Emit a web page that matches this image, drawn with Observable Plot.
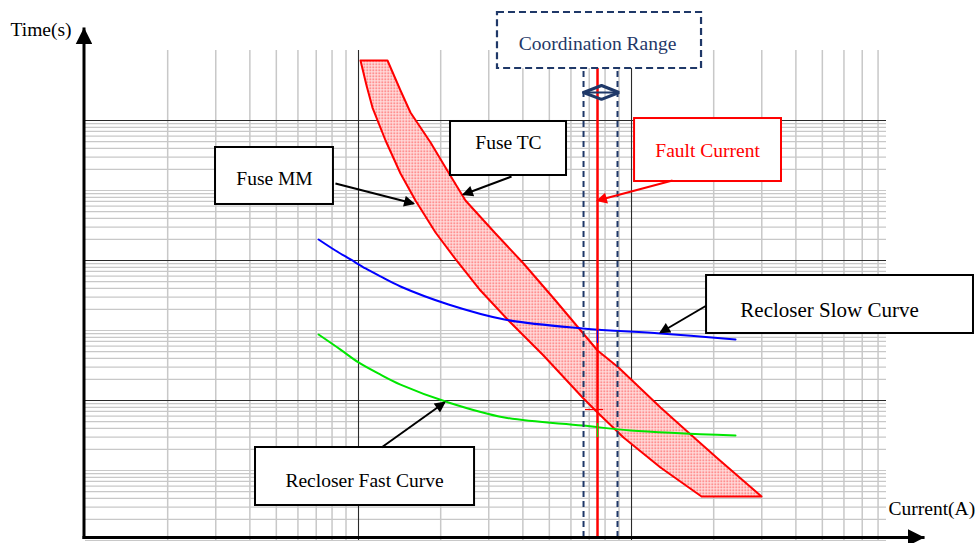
<!DOCTYPE html>
<html><head><meta charset="utf-8">
<script src="https://cdn.jsdelivr.net/npm/d3@7"></script>
<script src="https://cdn.jsdelivr.net/npm/@observablehq/plot@0.6"></script>
<style>
html,body{margin:0;padding:0;background:#fff;}
#chart{width:980px;height:543px;overflow:hidden;}
</style></head><body><div id="chart"></div>
<script>
// ---------- data (current in A, time in s) ----------
const fuseMMCurrent = [1017,1070,1125,1256,1425,1617,1915,2286,2798,3543,4760,6616,7507,9348,12770,18050];
const fuseMMTime    = [26.83,17.78,12.38,7.197,4.183,2.683,1.585,1.0,0.6105,0.3728,0.2096,0.1051,0.0821,0.0544,0.0332,0.0206];
const fuseTCCurrent = [1277,1425,1550,1836,2136,2465,3175,4022,5267,7507,8961,12770,16310,20480,29940];
const fuseTCTime    = [26.83,16.38,11.41,6.964,4.252,2.683,1.559,0.9519,0.5179,0.2276,0.1720,0.0891,0.0581,0.0392,0.0206];
const slowCurrent = [714,823,935,1061,1204,1425,2136,3426,6616,12770,24040];
const slowTime    = [1.413,1.179,1.017,0.877,0.769,0.652,0.485,0.379,0.327,0.301,0.273];
const fastCurrent = [714,859,1000,1204,1425,2136,3426,6616,9916,24040];
const fastTime    = [0.296,0.231,0.187,0.153,0.130,0.0968,0.0756,0.0663,0.0611,0.0562];
const faultCurrent = 7507;
const coordRange = [6672, 8886];

// grid ticks
const xDecades = [100, 1000, 10000];
const xMajor = [1000, 10000];
const yMajor = [0.1, 1, 10];
const minorSteps = [2,3,4,5,6,7,8,9];
const xDomain = [100, 85900];
const yDomain = [0.01, 31.62];

// annotation texts and boxes (positions in A / s)
const boxLabels = ["Fuse MM","Fuse TC","Fault Current","Recloser Slow Curve","Recloser Fast Curve","Coordination Range"];
const boxX1 = [299.4, 2173, 10260, 18830, 419.5, 3229];
const boxX2 = [809.5, 5780, 35430, 178900, 2661, 18050];
const boxY1 = [2.512, 4.047, 3.666, 0.301, 0.01778, 23.51];
const boxY2 = [6.414, 9.837, 10.33, 0.7813, 0.04616, 59.08];
const textX = [492.3, 3543, 18990, 53130, 1052, 7507];
const textY = [3.852, 6.96, 6.105, 0.4394, 0.02683, 35.48];
const textSize = [19.5, 19.5, 19.5, 21, 19.5, 19.5];
const boxColor = ["#000","#000","#ff0000","#000","#000","#1f3868"];

// pointer arrows: from box to curve
const ptrFromX = [823.3, 3635, 18830, 1214];
const ptrFromY = [3.548, 3.981, 0.477, 0.04616];
const ptrToX   = [1590, 2424, 12770, 2065];
const ptrToY   = [2.553, 2.961, 0.306, 0.0968];
const faultPtr = {x1: 14130, y1: 3.728, x2: 7507, y2: 2.683};

// ---------- derived tables ----------
const xMinor = xDecades.flatMap(d => minorSteps.map(k => k * d)).filter(v => v <= xDomain[1]);
const yMinor = [];
for (let m = 0; m <= 5; m++) for (let k = 1; k <= 10; k++) {
  const v = 0.01 * Math.pow(10, m / 2) * Math.sqrt(k);
  if (v <= yDomain[1] * 1.0001 && !yMajor.some(t => Math.abs(t - v) / t < 1e-6)) yMinor.push(v);
}
const fuseBand = [
  ...fuseMMCurrent.map((c, i) => ({current: c, time: fuseMMTime[i]})),
  ...fuseTCCurrent.map((c, i) => ({current: c, time: fuseTCTime[i]})).reverse(),
  {current: fuseMMCurrent[0], time: fuseMMTime[0]}
];
const slow = slowCurrent.map((c, i) => ({current: c, time: slowTime[i]}));
const fast = fastCurrent.map((c, i) => ({current: c, time: fastTime[i]}));
const boxes = boxLabels.map((l, i) => ({label: l, x1: boxX1[i], x2: boxX2[i], y1: boxY1[i], y2: boxY2[i], tx: textX[i], ty: textY[i], size: textSize[i], color: boxColor[i]}));
const pointers = ptrFromX.map((x, i) => ({x1: x, y1: ptrFromY[i], x2: ptrToX[i], y2: ptrToY[i]}));
const yAxisBottom = 0.01024, yAxisTop = 46.17, xAxisLeft = 97.5, xAxisRight = 118400, yAxisX = 98.74, xAxisY = 0.0105;
const diamond = [
  {current: coordRange[0], time: 15.85}, {current: 7765, time: 17.78},
  {current: 9000, time: 15.85}, {current: 7765, time: 14.13}, {current: coordRange[0], time: 15.85}
];

const navy = "#1f3868";
const serif = "Liberation Serif";

const marks = [
  Plot.ruleY(yMinor, {stroke: "#c8c8c8", strokeWidth: 1.2}),
  Plot.ruleX(xMinor, {stroke: "#c8c8c8", strokeWidth: 1.5}),
  Plot.ruleY(yMajor, {stroke: "#2a2a2a", strokeWidth: 1.1}),
  Plot.ruleX(xMajor, {stroke: "#2a2a2a", strokeWidth: 1.1}),
  Plot.line(fuseBand, {x: "current", y: "time", fill: "url(#fuseDots)", stroke: "#ff0000", strokeWidth: 2}),
  Plot.line(slow, {x: "current", y: "time", stroke: "#0000ff", strokeWidth: 2, curve: "catmull-rom"}),
  Plot.line(fast, {x: "current", y: "time", stroke: "#00e600", strokeWidth: 2, curve: "catmull-rom"}),
  Plot.ruleX(coordRange, {y1: xAxisY, y2: boxY1[5], stroke: navy, strokeWidth: 2, strokeDasharray: "6,4"}),
  Plot.ruleX([faultCurrent], {y1: xAxisY, y2: boxY1[5], stroke: "#ff0000", strokeWidth: 2.5}),
  // small readout ticks on the fault line
  Plot.ruleX([faultCurrent], {y1: 0.2553, y2: 0.3162, stroke: "#0000ff", strokeWidth: 1.2}),
  Plot.ruleX([faultCurrent], {y1: 0.0544, y2: 0.0685, stroke: "#00e600", strokeWidth: 1.2}),
  Plot.ruleY([0.0862], {x1: 6784, x2: 7898, stroke: "#ff0000", strokeWidth: 1.2}),
  // double-headed coordination arrow
  Plot.line(diamond, {x: "current", y: "time", stroke: navy, strokeWidth: 3, strokeLinejoin: "miter"}),
  Plot.ruleY([15.85], {x1: coordRange[0], x2: 9000, stroke: navy, strokeWidth: 2}),
  // boxes
  Plot.rect(boxes.filter(b => b.label !== "Coordination Range"), {x1: "x1", x2: "x2", y1: "y1", y2: "y2", fill: "white", stroke: "color", strokeWidth: 2}),
  Plot.rect(boxes.filter(b => b.label === "Coordination Range"), {x1: "x1", x2: "x2", y1: "y1", y2: "y2", fill: "white", stroke: navy, strokeWidth: 2.2, strokeDasharray: "7,4"}),
  Plot.text(boxes, {x: "tx", y: "ty", text: "label", fill: "color", fontSize: "size", fontFamily: serif})
];
const ptrBlackIdx = marks.push(Plot.link(pointers, {x1: "x1", y1: "y1", x2: "x2", y2: "y2", stroke: "#000", strokeWidth: 2, className: "ptrblack"})) - 1;
const ptrRedIdx = marks.push(Plot.link([faultPtr], {x1: "x1", y1: "y1", x2: "x2", y2: "y2", stroke: "#ff0000", strokeWidth: 2, className: "ptrred"})) - 1;
const axisYIdx = marks.push(Plot.link([{x1: yAxisX, y1: yAxisBottom, x2: yAxisX, y2: yAxisTop}], {x1: "x1", y1: "y1", x2: "x2", y2: "y2", stroke: "#000", strokeWidth: 3, className: "axisy"})) - 1;
const axisXIdx = marks.push(Plot.link([{x1: xAxisLeft, y1: xAxisY, x2: xAxisRight, y2: xAxisY}], {x1: "x1", y1: "y1", x2: "x2", y2: "y2", stroke: "#000", strokeWidth: 3, className: "axisx"})) - 1;
marks.push(
  Plot.text(["Time(s)"], {frameAnchor: "top-left", dx: -75, dy: -28, textAnchor: "start", fontSize: 19.5, fontFamily: serif, fill: "#000"}),
  Plot.text(["Current(A)"], {frameAnchor: "bottom-right", dx: 2, dy: -26, textAnchor: "start", fontSize: 19.5, fontFamily: serif, fill: "#000"})
);

const plot = Plot.plot({
  width: 980, height: 543,
  marginLeft: 85, marginRight: 94, marginTop: 50, marginBottom: 3,
  style: {background: "white", fontFamily: serif, overflow: "visible"},
  x: {type: "log", domain: xDomain, axis: null},
  y: {type: "log", domain: yDomain, axis: null},
  marks
});

// defs: dotted fill pattern and filled arrowheads
const svg = d3.select(plot);
const defs = svg.insert("defs", ":first-child");
const pat = defs.append("pattern").attr("id", "fuseDots").attr("width", 3).attr("height", 3).attr("patternUnits", "userSpaceOnUse");
pat.append("rect").attr("width", 3).attr("height", 3).attr("fill", "#ffe2e2");
pat.append("rect").attr("width", 1.5).attr("height", 1.5).attr("fill", "#ff5050");
function addMarker(id, color, w, h, refX) {
  const m = defs.append("marker").attr("id", id).attr("viewBox", "0 0 10 10").attr("refX", refX).attr("refY", 5)
    .attr("markerWidth", w).attr("markerHeight", h).attr("markerUnits", "userSpaceOnUse").attr("orient", "auto");
  m.append("path").attr("d", "M0,0L10,5L0,10Z").attr("fill", color);
}
addMarker("ahBlack", "#000", 13, 11, 8.5);
addMarker("ahRed", "#ff0000", 13, 11, 8.5);
addMarker("ahAxis", "#000", 17, 17, 10);
const markEls = [...plot.children].filter(e => !["style", "defs", "title", "desc"].includes(e.tagName.toLowerCase()));
function markEl(cls, idx) { return plot.querySelector("." + cls) || markEls[idx]; }
function setMarker(cls, idx, id) {
  const el = markEl(cls, idx);
  if (!el) return;
  const paths = el.tagName.toLowerCase() === "path" ? [el] : [...el.querySelectorAll("path")];
  paths.forEach(p => p.setAttribute("marker-end", `url(#${id})`));
}
setMarker("ptrblack", ptrBlackIdx, "ahBlack");
setMarker("ptrred", ptrRedIdx, "ahRed");
setMarker("axisy", axisYIdx, "ahAxis");
setMarker("axisx", axisXIdx, "ahAxis");

document.getElementById("chart").append(plot);
</script>
</body></html>
